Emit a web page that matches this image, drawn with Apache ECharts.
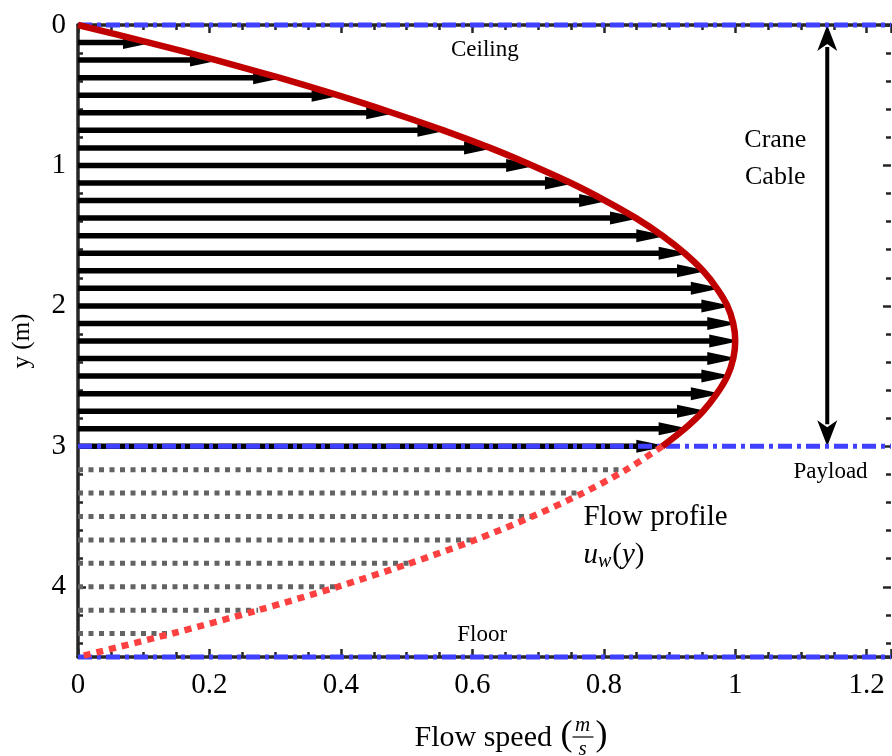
<!DOCTYPE html>
<html>
<head>
<meta charset="utf-8">
<script src="https://cdn.jsdelivr.net/npm/echarts@6/dist/echarts.min.js"></script>
<style>
  html, body { margin: 0; padding: 0; background: #fff; }
  #chart { width: 892px; height: 756px; }
</style>
</head>
<body>
<div id="chart"></div>
<script>
// Heights (m) of the velocity arrows between ceiling and payload
const arrowY = [0.125, 0.25, 0.375, 0.5, 0.625, 0.75, 0.875, 1.0, 1.125, 1.25, 1.375, 1.5,
                1.625, 1.75, 1.875, 2.0, 2.125, 2.25, 2.375, 2.5, 2.625, 2.75, 2.875, 3.0];
// Flow speed (m/s) at each arrow
const arrowU = [0.108, 0.210, 0.306, 0.395, 0.478, 0.556, 0.627, 0.691, 0.750, 0.802, 0.849, 0.889,
                0.923, 0.951, 0.972, 0.988, 0.997, 1.000, 0.997, 0.988, 0.972, 0.951, 0.923, 0.889];
// Heights (m) of the dotted speed lines below the payload
const belowY = [3.167, 3.333, 3.5, 3.667, 3.833, 4.0, 4.167, 4.333];
// Flow speed (m/s) at each dotted line
const belowU = [0.834, 0.768, 0.691, 0.604, 0.505, 0.395, 0.274, 0.143];
// Horizontal boundaries: ceiling, payload, floor (m)
const boundaryY = [0, 3, 4.5];
// Crane cable span (m) and its horizontal position (m/s axis units)
const cableX = 1.14;
const cableSpan = [0, 3];
// Axis ranges and ticks
const xMin = 0, xMax = 1.237, xStep = 0.2;
const yMin = 0, yMax = 4.5, yStep = 1;

const serif = 'Liberation Serif';
const axisColor = '#262626';

// Profile curve: solid above the payload, dotted below it
const profileTop = [[0, 0]].concat(arrowY.map((y, i) => [arrowU[i], y]));
const profileBottom = [[arrowU[arrowU.length - 1], 3]]
  .concat(belowY.map((y, i) => [belowU[i], y]))
  .concat([[0, 4.5]]);

function arrowItem(params, api) {
  const u = api.value(0), y = api.value(1);
  const p0 = api.coord([0, y]);
  const p1 = api.coord([u, y]);
  const head = 26, hw = 6.5;
  return {
    type: 'group',
    children: [
      { type: 'line', shape: { x1: p0[0], y1: p0[1], x2: p1[0] - head + 2, y2: p1[1] },
        style: { stroke: '#000', lineWidth: 5.5 } },
      { type: 'polygon', shape: { points: [[p1[0] - head, p1[1] - hw], [p1[0], p1[1] - 1], [p1[0], p1[1] + 1], [p1[0] - head, p1[1] + hw]] },
        style: { fill: '#000' } }
    ]
  };
}

function dottedItem(params, api) {
  const u = api.value(0), y = api.value(1);
  const p0 = api.coord([0, y]);
  const p1 = api.coord([u, y]);
  return {
    type: 'line',
    shape: { x1: p0[0], y1: p0[1], x2: p1[0], y2: p1[1] },
    style: { stroke: '#636363', lineWidth: 5, lineDash: [5, 5.5] }
  };
}

function boundaryItem(params, api) {
  const y = api.value(0);
  const p0 = api.coord([xMin, y]);
  const p1 = api.coord([xMax, y]);
  return {
    type: 'line',
    shape: { x1: p0[0], y1: p0[1], x2: p1[0], y2: p1[1] },
    style: { stroke: '#4040ff', lineWidth: 5, lineDash: [14, 5, 4, 5] }
  };
}

function cableItem(params, api) {
  const x = api.value(0);
  const a = api.coord([x, api.value(1)]);
  const b = api.coord([x, api.value(2)]);
  const L = 26, W = 10, N = 7;
  return {
    type: 'group',
    children: [
      { type: 'line', shape: { x1: a[0], y1: a[1] + L - 4, x2: b[0], y2: b[1] - L + 4 },
        style: { stroke: '#000', lineWidth: 4 } },
      { type: 'polygon', shape: { points: [[a[0], a[1]], [a[0] + W, a[1] + L], [a[0], a[1] + L - N], [a[0] - W, a[1] + L]] },
        style: { fill: '#000' } },
      { type: 'polygon', shape: { points: [[b[0], b[1]], [b[0] + W, b[1] - L], [b[0], b[1] - L + N], [b[0] - W, b[1] - L]] },
        style: { fill: '#000' } }
    ]
  };
}

const tickCommon = (labels, lineShow) => ({
  z: 0,
  axisLine: { show: lineShow !== false, onZero: false, lineStyle: { color: axisColor, width: 3.5 } },
  axisTick: { show: true, inside: true, length: 8, lineStyle: { color: axisColor, width: 2.5 } },
  minorTick: { show: true, length: 5, lineStyle: { color: axisColor, width: 2.5 } },
  splitLine: { show: false },
  minorSplitLine: { show: false },
  axisLabel: labels
});

const xLabel = { show: true, fontFamily: serif, fontSize: 29, color: '#000', margin: 14, showMaxLabel: false,
  formatter: v => String(Math.round(v * 10) / 10) };
const yLabel = { show: true, fontFamily: serif, fontSize: 29, color: '#000', margin: 12, showMaxLabel: false };

const option = {
  animation: false,
  backgroundColor: '#fff',
  grid: { left: 78, right: 1, top: 25, bottom: 99, containLabel: false },
  xAxis: [
    Object.assign({ type: 'value', position: 'bottom', min: xMin, max: xMax, interval: xStep }, tickCommon(xLabel)),
    Object.assign({ type: 'value', position: 'top', min: xMin, max: xMax, interval: xStep }, tickCommon({ show: false }))
  ],
  yAxis: [
    Object.assign({ type: 'value', position: 'left', inverse: true, min: yMin, max: yMax, interval: yStep }, tickCommon(yLabel)),
    Object.assign({ type: 'value', position: 'right', inverse: true, min: yMin, max: yMax, interval: yStep }, tickCommon({ show: false }, false))
  ],
  series: [
    { type: 'custom', xAxisIndex: 0, yAxisIndex: 0, renderItem: arrowItem, z: 2,
      data: arrowY.map((y, i) => [arrowU[i], y]), silent: true },
    { type: 'custom', xAxisIndex: 0, yAxisIndex: 0, renderItem: dottedItem, z: 2,
      data: belowY.map((y, i) => [belowU[i], y]), silent: true },
    { type: 'custom', xAxisIndex: 0, yAxisIndex: 0, renderItem: boundaryItem, zlevel: 1, z: 1, clip: false,
      data: boundaryY.map(y => [y]), silent: true },
    { type: 'line', xAxisIndex: 0, yAxisIndex: 0, data: profileTop, symbol: 'none', smooth: 0.3, zlevel: 1, z: 2, clip: false,
      lineStyle: { color: '#c00000', width: 6.5 }, silent: true },
    { type: 'line', xAxisIndex: 0, yAxisIndex: 0, data: profileBottom, symbol: 'none', smooth: 0.3, zlevel: 1, z: 2, clip: false,
      lineStyle: { color: '#ff4040', width: 6.5, type: [7, 6] }, silent: true },
    { type: 'custom', xAxisIndex: 0, yAxisIndex: 0, renderItem: cableItem, zlevel: 1, z: 0, clip: false,
      data: [[cableX, cableSpan[0], cableSpan[1]]], silent: true }
  ]
};
// minor tick split for every axis
option.xAxis.forEach(a => { a.minorTick.splitNumber = 4; });
option.yAxis.forEach(a => { a.minorTick.splitNumber = 5; });

const chart = echarts.init(document.getElementById('chart'), null, { renderer: 'canvas' });
chart.setOption(option);

// Annotations placed in data coordinates
const toPx = (x, y) => chart.convertToPixel({ xAxisIndex: 0, yAxisIndex: 0 }, [x, y]);
function label(text, x, y, size, align) {
  const p = toPx(x, y);
  return { type: 'text', x: p[0], y: p[1], z: 20,
    style: { text: text, fontFamily: serif, fontSize: size, fill: '#000', align: align || 'center', verticalAlign: 'middle' } };
}
const uw = toPx(0.769, 3.774);
const xt = toPx(0.6185, 4.5);
chart.setOption({
  graphic: [
    label('Ceiling', 0.619, 0.178, 23),
    label('Crane', 1.061, 0.819, 26),
    label('Cable', 1.061, 1.082, 26),
    label('Payload', 1.145, 3.183, 23),
    label('Flow profile', 0.769, 3.503, 29, 'left'),
    label('Floor', 0.615, 4.343, 23),
    { type: 'text', x: uw[0], y: uw[1], z: 20,
      style: { text: '{i|u}{s|w}{n|(}{i|y}{n|)}', fontFamily: serif, fontSize: 29, fill: '#000',
        align: 'left', verticalAlign: 'middle',
        rich: {
          i: { fontFamily: serif, fontSize: 29, fontStyle: 'italic', fill: '#000' },
          s: { fontFamily: serif, fontSize: 20, fontStyle: 'italic', fill: '#000', padding: [14, 1, 0, 0] },
          n: { fontFamily: serif, fontSize: 29, fill: '#000' }
        } } },
    // axis titles
    { type: 'text', x: 22, y: toPx(0, 2.25)[1], rotation: Math.PI / 2, z: 20,
      style: { text: 'y (m)', fontFamily: serif, fontSize: 25, fill: '#000', align: 'center', verticalAlign: 'middle' } },
    { type: 'text', x: xt[0] + 75, y: 738, z: 20,
      style: { text: 'Flow speed ', fontFamily: serif, fontSize: 30, fill: '#000', align: 'right', verticalAlign: 'middle' } },
    { type: 'text', x: xt[0] + 76, y: 736, z: 20,
      style: { text: '(', fontFamily: serif, fontSize: 36, fill: '#000', align: 'left', verticalAlign: 'middle' } },
    { type: 'text', x: xt[0] + 98, y: 725, z: 20,
      style: { text: 'm', fontFamily: serif, fontSize: 21, fontStyle: 'italic', fill: '#000', align: 'center', verticalAlign: 'middle' } },
    { type: 'line', z: 20, shape: { x1: xt[0] + 88, y1: 737, x2: xt[0] + 109, y2: 737 },
      style: { stroke: '#000', lineWidth: 1.2 } },
    { type: 'text', x: xt[0] + 98, y: 749, z: 20,
      style: { text: 's', fontFamily: serif, fontSize: 21, fontStyle: 'italic', fill: '#000', align: 'center', verticalAlign: 'middle' } },
    { type: 'text', x: xt[0] + 111, y: 736, z: 20,
      style: { text: ')', fontFamily: serif, fontSize: 36, fill: '#000', align: 'left', verticalAlign: 'middle' } }
  ]
});
</script>
</body>
</html>
